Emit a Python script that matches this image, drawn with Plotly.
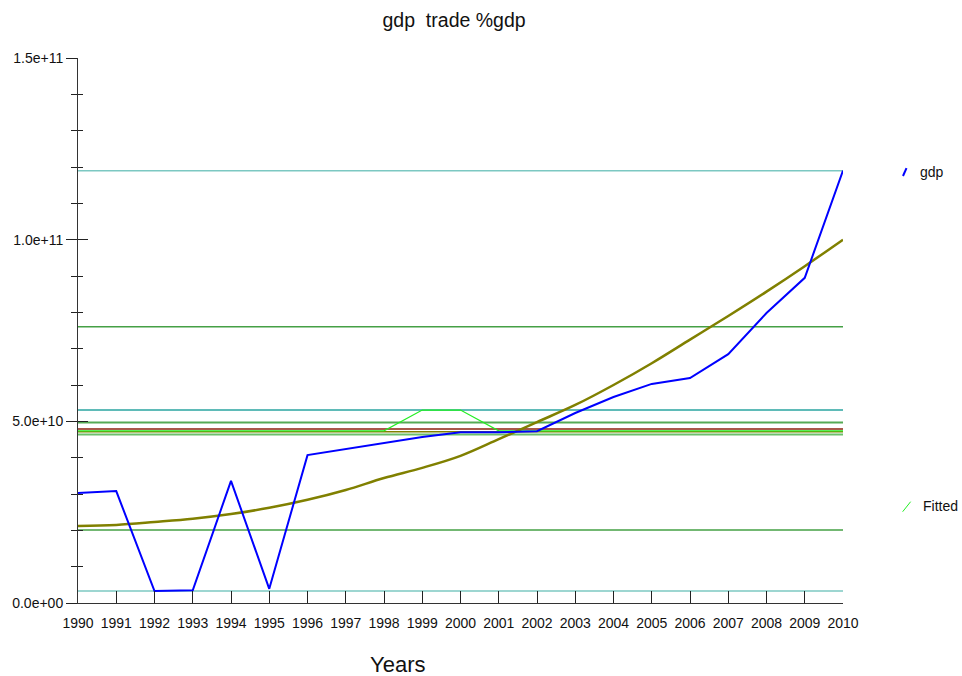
# gdp series with fitted curve and summary reference lines
import plotly.graph_objects as go

years = list(range(1990, 2011))

gdp = [3.03e10, 3.08e10, 0.33e10, 0.35e10, 3.36e10, 0.39e10, 4.07e10, 4.24e10,
       4.40e10, 4.57e10, 4.70e10, 4.70e10, 4.73e10, 5.23e10, 5.67e10, 6.03e10,
       6.19e10, 6.85e10, 7.98e10, 8.95e10, 11.9e10]

trend = [2.12e10, 2.15e10, 2.23e10, 2.32e10, 2.45e10, 2.62e10, 2.84e10, 3.11e10,
         3.44e10, 3.72e10, 4.05e10, 4.51e10, 4.98e10, 5.45e10, 6.00e10, 6.60e10,
         7.25e10, 7.90e10, 8.57e10, 9.27e10, 10.0e10]

fitted = [4.74e10] * 9 + [5.31e10, 5.31e10] + [4.74e10] * 10

# summary levels (value, colour, width)
levels = [
    (11.9e10, "#7cc8c2", 1.5),   # max
    (7.60e10, "#45a045", 1.5),   # mean + sd
    (5.31e10, "#2aa5a0", 1.5),
    (4.97e10, "#55aa55", 2.0),
    (4.79e10, "#a8584a", 2.0),   # mean
    (4.71e10, "#808000", 1.5),   # median
    (4.64e10, "#6cbf6c", 2.0),
    (2.01e10, "#45a045", 1.5),   # mean - sd
    (0.33e10, "#7cc8c2", 1.5),   # min
]

font = "Liberation Sans, Arial, sans-serif"
fig = go.Figure()

# reference levels on the base axis, series on the overlay so they sit on top
for val, col, w in levels:
    fig.add_trace(go.Scatter(x=years, y=[val] * len(years), mode="lines",
                             line=dict(color=col, width=w),
                             showlegend=False, hoverinfo="skip"))

fig.add_trace(go.Scatter(x=years, y=fitted, mode="lines", name="Fitted", yaxis="y2",
                         line=dict(color="#22ee22", width=1.2), showlegend=False))
fig.add_trace(go.Scatter(x=years, y=trend, mode="lines", line_shape="spline", yaxis="y2",
                         line=dict(color="#808000", width=2.5), showlegend=False))
fig.add_trace(go.Scatter(x=years, y=gdp, mode="lines", name="gdp", yaxis="y2",
                         line=dict(color="#0000ff", width=2), showlegend=False))

yrange = [0, 1.5e11]
fig.update_layout(
    width=962, height=676,
    margin=dict(l=78, r=119, t=58, b=73),
    plot_bgcolor="white", paper_bgcolor="white",
    font=dict(family=font, size=14, color="#111"),
    title=dict(text="gdp  trade %gdp", x=0.472, xanchor="center",
               y=1 - 20 / 676, yanchor="middle", font=dict(size=19.5, color="#111")),
    xaxis=dict(range=[1990, 2010], tickvals=years, showgrid=False, zeroline=False,
               showline=True, linecolor="#333", linewidth=1, automargin=False,
               ticks="inside", ticklen=12, tickcolor="#222", ticklabelstandoff=7,
               tickfont=dict(size=14)),
    yaxis=dict(range=yrange, showgrid=False, zeroline=False, automargin=False,
               showline=True, linecolor="#333", linewidth=1,
               tickvals=[0, 5e10, 1e11, 1.5e11],
               ticktext=["0.0e+00", "5.0e+10", "1.0e+11", "1.5e+11"],
               ticks="outside", ticklen=11, tickcolor="#222",
               minor=dict(dtick=1e10, ticks="outside", ticklen=6, tickcolor="#222"),
               tickfont=dict(size=14)),
    yaxis2=dict(range=yrange, overlaying="y", anchor="x", side="left",
                showgrid=False, zeroline=False, showticklabels=False, automargin=False,
                tickvals=[0, 5e10, 1e11, 1.5e11],
                ticks="inside", ticklen=10, tickcolor="#222",
                minor=dict(dtick=1e10, ticks="inside", ticklen=5, tickcolor="#222")),
)

fig.add_annotation(text="Years", xref="paper", yref="paper", x=0.417, y=-0.112,
                   xanchor="center", yanchor="middle",
                   showarrow=False, font=dict(size=22, color="#111"))

# legend entries at right
fig.add_annotation(text="gdp", xref="paper", yref="paper", x=1.098, y=0.791,
                   xanchor="left", yanchor="middle", showarrow=False,
                   font=dict(size=14, color="#111"))
fig.add_annotation(text="Fitted", xref="paper", yref="paper", x=1.102, y=0.178,
                   xanchor="left", yanchor="middle", showarrow=False,
                   font=dict(size=14, color="#111"))
fig.add_shape(type="line", xref="paper", yref="paper", x0=1.0784, y0=0.7835,
              x1=1.0830, y1=0.798, line=dict(color="#0000ff", width=2))
fig.add_shape(type="line", xref="paper", yref="paper", x0=1.0780, y0=0.1675,
              x1=1.0884, y1=0.1859, line=dict(color="#22ee22", width=1))

# drop the default 8px body margin so the figure fills the window
fig.write_html("out.html", config={"displayModeBar": False},
               post_script="document.body.style.margin='0';")
